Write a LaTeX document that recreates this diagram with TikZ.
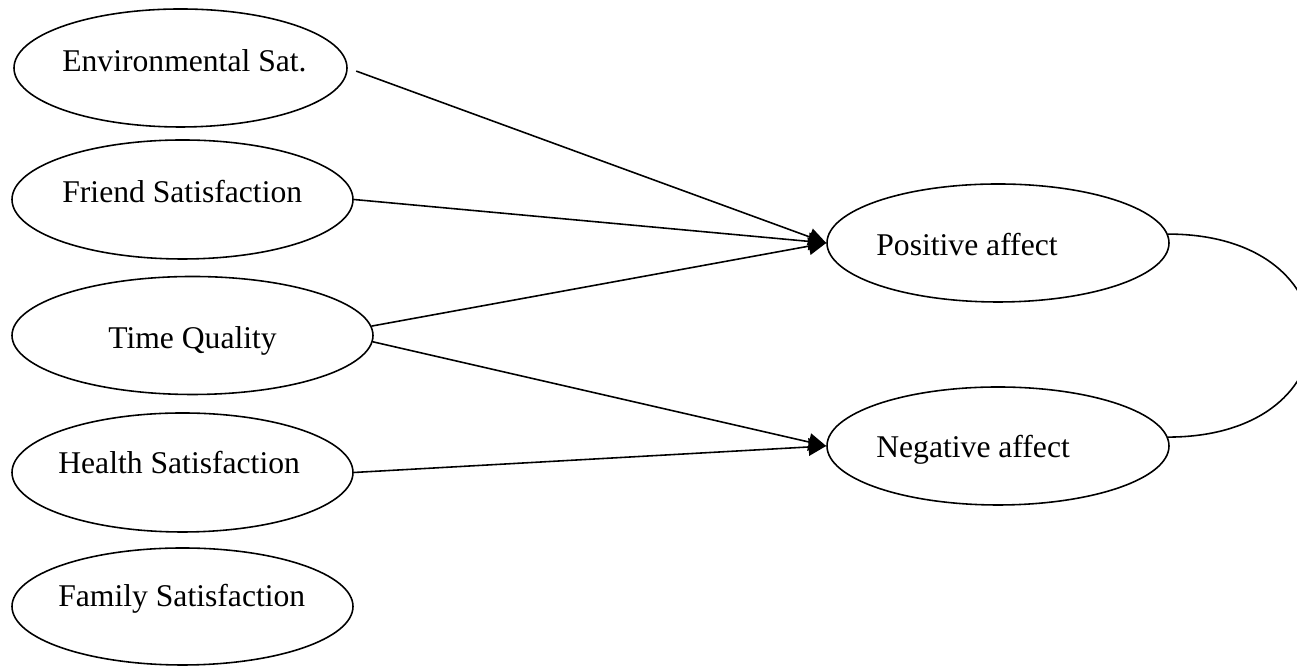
\documentclass[tikz,border=0pt]{standalone}
\usepackage{fontspec}
\setmainfont{Liberation Serif}
\usetikzlibrary{shapes.geometric,arrows.meta}

\begin{document}
\begin{tikzpicture}[>={Triangle[length=10pt,width=10pt]},
        latent/.style={draw, ellipse, line width=0.9pt, inner sep=0pt},
        lbl/.style={anchor=base west, inner sep=0pt, font=\fontsize{18}{21.6}\selectfont},
        pfad/.style={->, line width=0.9pt}]

        % Rahmen
        \useasboundingbox (0,0) rectangle (25.94,13.32);
        \clip (0,0) rectangle (25.94,13.32);

        % Ellipsen links
        \node[latent, minimum width=6.66cm, minimum height=2.36cm] (env) at (3.61,11.96) {};
        \node[latent, minimum width=6.82cm, minimum height=2.38cm] (friend) at (3.65,9.33) {};
        \node[latent, minimum width=7.22cm, minimum height=2.36cm] (time) at (3.85,6.61) {};
        \node[latent, minimum width=6.82cm, minimum height=2.38cm] (health) at (3.65,3.87) {};
        \node[latent, minimum width=6.82cm, minimum height=2.34cm] (family) at (3.65,1.19) {};

        % Ellipsen rechts
        \node[latent, minimum width=6.84cm, minimum height=2.36cm] (pos) at (19.96,8.46) {};
        \node[latent, minimum width=6.84cm, minimum height=2.36cm] (neg) at (19.96,4.40) {};

        % Beschriftungen
        \node[lbl] (envtext) at (1.24,11.88) {Environmental Sat.};
        \node[lbl] (friendtext) at (1.24,9.26) {Friend Satisfaction};
        \node[lbl] (timetext) at (2.16,6.34) {Time Quality};
        \node[lbl] (healthtext) at (1.16,3.84) {Health Satisfaction};
        \node[lbl] (familytext) at (1.16,1.18) {Family Satisfaction};
        \node[lbl] (postext) at (17.52,8.20) {Positive affect};
        \node[lbl] (negtext) at (17.52,4.16) {Negative affect};

        % Pfade
        \draw[pfad, shorten <=0.18cm] (env.east) -- (pos.west);
        \draw[pfad] (friend.east) -- (pos.west);
        \draw[pfad] (time.3) -- (pos.west);
        \draw[pfad] (time.-2) -- (neg.west);
        \draw[pfad] (health.east) -- (neg.west);

        % Kovarianz
        \draw[line width=0.9pt] (pos.3) .. controls +(3.82,0) and +(3.82,0) .. (neg.3);

    \end{tikzpicture}
\end{document}
